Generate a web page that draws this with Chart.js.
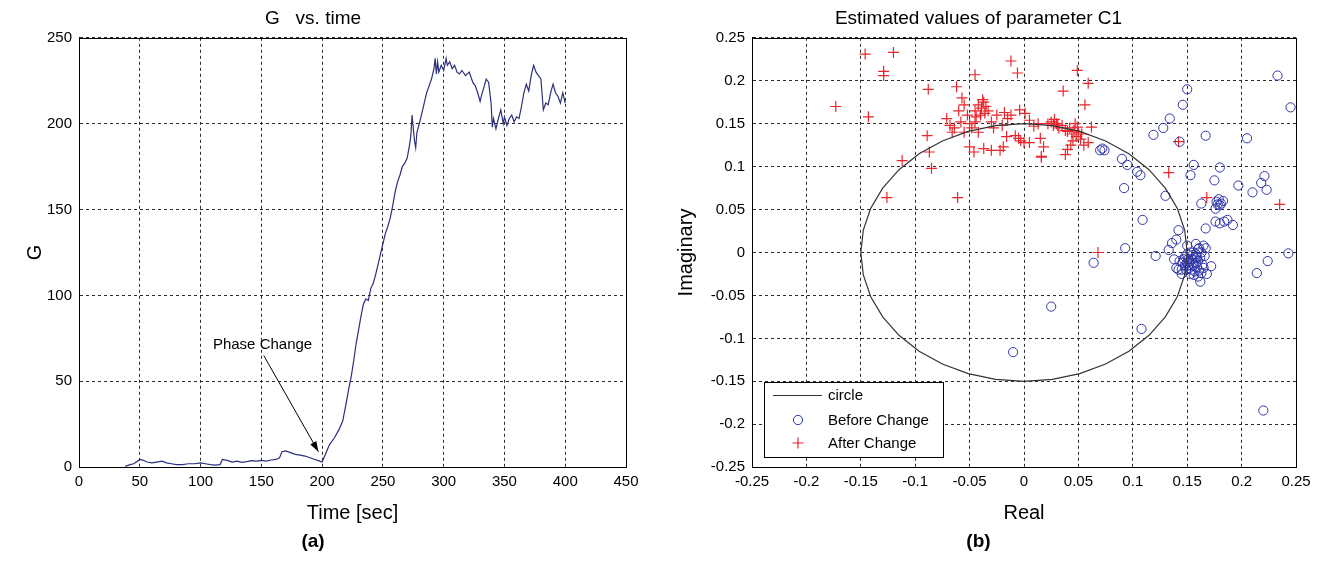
<!DOCTYPE html>
<html>
<head>
<meta charset="utf-8">
<script src="https://cdn.jsdelivr.net/npm/chart.js@4.4.0/dist/chart.umd.min.js"></script>
<style>
    html, body { margin: 0; padding: 0; background: #fff; }
    .panel { position: absolute; top: 0; width: 661px; height: 567px; }
    #left { left: 0; }
    #right { left: 661px; }
</style>
</head>
<body>
<div class="panel" id="left"><canvas id="gChart"></canvas></div>
<div class="panel" id="right"><canvas id="c1Chart"></canvas></div>
<script>
// ---- (a) G vs. time ----
const timeSec = [38, 42, 45, 48, 50, 53, 56, 60, 64, 68, 72, 76, 80, 85, 90, 95, 100, 104, 108, 112,
    116, 118, 122, 126, 130, 134, 138, 142, 146, 150, 154, 158, 162, 165, 167, 170, 174, 178, 182, 186,
    190, 194, 198, 200, 203, 206, 210, 214, 217, 220, 222, 224, 226, 228, 230, 232, 234, 236, 238, 240,
    242, 244, 246, 248, 250, 252, 254, 256, 258, 260, 262, 264, 266, 268, 270, 272, 273, 274, 276, 277,
    278, 280, 282, 284, 286, 288, 290, 292, 293, 294, 295, 296, 298, 300, 302, 303, 305, 307, 309, 311,
    313, 315, 318, 321, 324, 326, 328, 330, 331, 333, 335, 337, 339, 340, 341, 343, 345, 347, 349, 350,
    352, 354, 356, 358, 360, 362, 364, 366, 368, 370, 372, 374, 376, 378, 380, 382, 384, 386, 388, 390,
    392, 394, 396, 398, 400];
const gValues = [0.5, 1.5, 2, 3.5, 4.5, 4, 3, 2.5, 3, 3.5, 2.5, 2, 1.5, 1.5, 2, 2, 2.5, 2, 1.5, 1.2,
    1.5, 4.5, 4, 3, 3.5, 2.8, 3.2, 3.8, 3.5, 4, 3.6, 4.2, 4.5, 5.5, 9, 9.5, 8.5, 7.5, 7, 6.5,
    5.5, 4.5, 3.5, 3, 8, 13, 17, 22, 27, 38, 46, 53, 62, 72, 80, 88, 95, 98, 97, 104,
    107, 112, 118, 124, 130, 136, 140, 145, 152, 160, 166, 170, 175, 177, 180, 188, 193, 205, 190, 186,
    195, 200, 206, 212, 218, 222, 226, 232, 238, 229, 236, 230, 234, 231, 238, 234, 236, 232, 234, 230,
    229, 231, 228, 230, 224, 222, 218, 213, 216, 221, 226, 224, 212, 198, 203, 197, 203, 208, 200, 204,
    199, 203, 205, 201, 204, 203, 210, 218, 223, 219, 228, 234, 230, 228, 226, 208, 212, 211, 218, 223,
    218, 216, 212, 218, 212];
const timeTicks = [0, 50, 100, 150, 200, 250, 300, 350, 400, 450];
const gTicks = [0, 50, 100, 150, 200, 250];
const phaseLabel = 'Phase Change';
const phaseTextAt = [151, 71];
const phaseArrowFrom = [152, 65];
const phaseArrowTo = [197, 9];

// ---- (b) Estimated values of parameter C1 ----
const beforeRe = [0.233, 0.245, 0.150, 0.146, 0.134, 0.128, 0.119, 0.143, 0.167, 0.205, 0.156, 0.153, 0.180, 0.175,
    0.197, 0.210, 0.218, 0.221, 0.223, 0.130, 0.109, 0.092, 0.090, 0.095, 0.104, 0.107, 0.070, 0.074, 0.072,
    0.163, 0.167, 0.176, 0.180, 0.184, 0.187, 0.192, 0.176, 0.177, 0.181, 0.179, 0.183, 0.180, 0.178,
    0.142, 0.140, 0.136, 0.133, 0.093, 0.121, 0.064, 0.172, 0.161, 0.163, 0.162, 0.243, 0.224, 0.214,
    0.025, 0.108, -0.010, 0.220,
    0.148, 0.150, 0.152, 0.154, 0.156, 0.158, 0.160, 0.153, 0.157, 0.149, 0.162, 0.155, 0.151, 0.159,
    0.146, 0.164, 0.157, 0.153, 0.161, 0.148, 0.155, 0.150, 0.158, 0.163, 0.145, 0.165, 0.152, 0.156,
    0.147, 0.160, 0.142, 0.143, 0.165, 0.168, 0.145, 0.160, 0.154, 0.151, 0.159, 0.155, 0.138, 0.140,
    0.166, 0.167, 0.158, 0.150];
const beforeIm = [0.206, 0.169, 0.190, 0.172, 0.156, 0.145, 0.137, 0.129, 0.136, 0.133, 0.102, 0.090, 0.099, 0.084,
    0.078, 0.070, 0.081, 0.089, 0.073, 0.066, 0.038, 0.075, 0.109, 0.102, 0.094, 0.090, 0.119, 0.119, 0.121,
    0.057, 0.028, 0.036, 0.034, 0.036, 0.038, 0.032, 0.051, 0.059, 0.057, 0.062, 0.060, 0.055, 0.056,
    0.026, 0.015, 0.011, 0.003, 0.005, -0.004, -0.012, -0.016, 0.005, -0.024, -0.034, -0.001, -0.010, -0.024,
    -0.063, -0.089, -0.116, -0.184,
    -0.005, -0.012, -0.018, -0.008, -0.015, -0.002, -0.010, 0.000, -0.022, -0.020, -0.006, -0.012, -0.008, -0.017,
    -0.012, -0.014, -0.006, -0.025, -0.021, -0.015, -0.003, -0.002, -0.012, 0.000, -0.020, -0.018, -0.010, -0.026,
    -0.008, 0.004, -0.020, -0.010, 0.008, -0.025, -0.025, -0.028, -0.020, -0.015, -0.005, -0.008, -0.008, -0.018,
    -0.004, 0.005, 0.010, 0.008];
const afterRe = [-0.146, -0.120, -0.129, -0.129, -0.173, -0.143, -0.088, -0.112, -0.126, -0.089, -0.087, -0.085,
    -0.061, -0.045, -0.062, -0.057, -0.012, -0.006, 0.036, 0.049, 0.059, 0.056, 0.062, 0.059, 0.142, 0.133,
    0.168, 0.235, 0.068, 0.016,
    -0.045, -0.042, -0.038, -0.035, -0.040, -0.033, -0.037, -0.044, -0.039, -0.036,
    -0.071, -0.068, -0.064, -0.058, -0.055, -0.052, -0.050, -0.048, -0.045, -0.042, -0.030, -0.028, -0.025,
    -0.020, -0.018, -0.015, -0.012, -0.060, -0.055, -0.066,
    -0.050, -0.046, -0.037, -0.030, -0.022, -0.019, -0.016, -0.008, -0.005, -0.003, 0.000, 0.005, -0.004,
    0.001, 0.005, 0.009, 0.013, 0.015, 0.018, 0.016,
    0.022, 0.025, 0.027, 0.028, 0.030, 0.032, 0.035, 0.038, 0.031,
    0.040, 0.042, 0.044, 0.046, 0.048, 0.050, 0.045, 0.052, 0.040, 0.038, 0.043, 0.055, 0.047, 0.049, 0.053];
const afterIm = [0.231, 0.233, 0.211, 0.206, 0.170, 0.158, 0.190, 0.107, 0.064, 0.136, 0.117, 0.098,
    0.064, 0.207, 0.193, 0.180, 0.223, 0.209, 0.188, 0.212, 0.197, 0.172, 0.146, 0.128, 0.129, 0.093,
    0.064, 0.056, 0.000, 0.111,
    0.165, 0.172, 0.178, 0.170, 0.160, 0.165, 0.175, 0.158, 0.168, 0.162,
    0.156, 0.148, 0.145, 0.152, 0.140, 0.160, 0.150, 0.145, 0.152, 0.140, 0.152, 0.145, 0.160,
    0.148, 0.163, 0.156, 0.160, 0.165, 0.172, 0.140,
    0.123, 0.117, 0.121, 0.119, 0.119, 0.123, 0.135, 0.136, 0.133, 0.130, 0.128, 0.128, 0.166,
    0.162, 0.154, 0.147, 0.150, 0.133, 0.123, 0.112,
    0.150, 0.152, 0.148, 0.155, 0.150, 0.145, 0.148, 0.142, 0.148,
    0.141, 0.145, 0.138, 0.142, 0.135, 0.140, 0.130, 0.132, 0.120, 0.114, 0.125, 0.125, 0.150, 0.146, 0.138];
// circle of radius 0.15, every 10 degrees
const circleRe = [0.15, 0.1477, 0.1410, 0.1299, 0.1149, 0.0964, 0.0750, 0.0513, 0.0260, 0,
    -0.0260, -0.0513, -0.0750, -0.0964, -0.1149, -0.1299, -0.1410, -0.1477, -0.15,
    -0.1477, -0.1410, -0.1299, -0.1149, -0.0964, -0.0750, -0.0513, -0.0260, 0,
    0.0260, 0.0513, 0.0750, 0.0964, 0.1149, 0.1299, 0.1410, 0.1477, 0.15];
const circleIm = [0, 0.0260, 0.0513, 0.0750, 0.0964, 0.1149, 0.1299, 0.1410, 0.1477, 0.15,
    0.1477, 0.1410, 0.1299, 0.1149, 0.0964, 0.0750, 0.0513, 0.0260, 0,
    -0.0260, -0.0513, -0.0750, -0.0964, -0.1149, -0.1299, -0.1410, -0.1477, -0.15,
    -0.1477, -0.1410, -0.1299, -0.1149, -0.0964, -0.0750, -0.0513, -0.0260, 0];
const c1Ticks = [-0.25, -0.2, -0.15, -0.1, -0.05, 0, 0.05, 0.1, 0.15, 0.2, 0.25];

const FONT = '"Liberation Sans", Arial, Helvetica, sans-serif';
Chart.defaults.font.family = FONT;
Chart.defaults.color = '#000';

function pairs(xs, ys) {
    return xs.map((x, i) => ({ x: x, y: ys[i] }));
}

// force axis box sizes so the plot areas land where the reference has them
function fixSize(size) {
    return function (scale) {
        if (scale.isHorizontal()) scale.height = size;
        else scale.width = size;
    };
}

function useTicks(list) {
    return function (scale) {
        scale.ticks = list.map(v => ({ value: v }));
    };
}

function tickText(v) {
    return String(Math.round(v * 100) / 100);
}

function axis(opts) {
    return {
        type: 'linear',
        min: opts.min,
        max: opts.max,
        afterBuildTicks: useTicks(opts.ticks),
        afterFit: fixSize(opts.size),
        grid: { color: '#2a2a2a', lineWidth: 1, drawTicks: false },
        border: { color: '#000', dash: [3, 3] },
        ticks: { font: { size: 15 }, padding: opts.tickPad, callback: tickText, maxRotation: 0, autoSkip: false },
        title: { display: true, text: opts.title, font: { size: 20 }, padding: opts.titlePad }
    };
}

// MATLAB style box round the axes
const frame = {
    id: 'frame',
    afterDatasetsDraw(chart) {
        const { ctx, chartArea: a } = chart;
        ctx.save();
        ctx.strokeStyle = '#000';
        ctx.lineWidth = 1;
        ctx.strokeRect(Math.round(a.left) + 0.5, Math.round(a.top) + 0.5,
            Math.round(a.right - a.left), Math.round(a.bottom - a.top));
        ctx.restore();
    }
};

const phaseNote = {
    id: 'phaseNote',
    afterDatasetsDraw(chart) {
        const { ctx, scales: { x, y } } = chart;
        const fx = x.getPixelForValue(phaseArrowFrom[0]), fy = y.getPixelForValue(phaseArrowFrom[1]);
        const tx = x.getPixelForValue(phaseArrowTo[0]), ty = y.getPixelForValue(phaseArrowTo[1]);
        const cx = x.getPixelForValue(phaseTextAt[0]), cy = y.getPixelForValue(phaseTextAt[1]);
        ctx.save();
        ctx.font = '15px ' + FONT;
        ctx.fillStyle = '#000';
        ctx.textAlign = 'center';
        ctx.textBaseline = 'middle';
        ctx.fillText(phaseLabel, cx, cy);
        // arrow
        ctx.strokeStyle = '#000';
        ctx.lineWidth = 1;
        ctx.beginPath();
        ctx.moveTo(fx, fy);
        ctx.lineTo(tx, ty);
        ctx.stroke();
        const ang = Math.atan2(ty - fy, tx - fx);
        const len = 11, half = 0.32;
        ctx.beginPath();
        ctx.moveTo(tx, ty);
        ctx.lineTo(tx - len * Math.cos(ang - half), ty - len * Math.sin(ang - half));
        ctx.lineTo(tx - len * Math.cos(ang + half), ty - len * Math.sin(ang + half));
        ctx.closePath();
        ctx.fill();
        ctx.restore();
    }
};

const legendBox = {
    id: 'legendBox',
    afterDraw(chart) {
        const { ctx, chartArea } = chart;
        const x0 = Math.round(chartArea.left) + 12, y0 = Math.round(chartArea.bottom) - 85;
        const w = 179, h = 75;
        ctx.save();
        ctx.fillStyle = '#fff';
        ctx.fillRect(x0, y0, w, h);
        ctx.strokeStyle = '#000';
        ctx.lineWidth = 1;
        ctx.strokeRect(x0 + 0.5, y0 + 0.5, w, h);
        ctx.font = '15px ' + FONT;
        ctx.textBaseline = 'middle';
        const rows = [13, 38, 61];
        chart.data.datasets.forEach((ds, i) => {
            const cy = y0 + rows[i];
            ctx.strokeStyle = ds.borderColor;
            ctx.lineWidth = ds.borderWidth;
            if (ds.showLine) {
                ctx.beginPath();
                ctx.moveTo(x0 + 9, cy + 0.5);
                ctx.lineTo(x0 + 58, cy + 0.5);
                ctx.stroke();
            } else {
                ctx.fillStyle = 'rgba(0,0,0,0)';
                Chart.helpers.drawPoint(ctx, {
                    pointStyle: ds.pointStyle, radius: ds.pointRadius, borderWidth: ds.borderWidth, rotation: 0
                }, x0 + 34, cy);
            }
            ctx.fillStyle = '#000';
            ctx.fillText(ds.label, x0 + 64, cy + 1);
        });
        ctx.restore();
    }
};

new Chart(document.getElementById('gChart'), {
    type: 'line',
    data: {
        datasets: [{
            label: 'G',
            data: pairs(timeSec, gValues),
            borderColor: '#2b2f7c',
            borderWidth: 1.2,
            pointRadius: 0,
            tension: 0,
            fill: false
        }]
    },
    options: {
        responsive: true,
        maintainAspectRatio: false,
        animation: false,
        layout: { padding: { left: 0, right: 35, top: 0, bottom: 0 } },
        scales: {
            x: axis({ min: 0, max: 450, ticks: timeTicks, size: 61, tickPad: 6, title: 'Time [sec]', titlePad: { top: 0, bottom: 3 } }),
            y: axis({ min: 0, max: 250, ticks: gTicks, size: 79, tickPad: 7, title: 'G', titlePad: { top: 23, bottom: 0 } })
        },
        plugins: {
            legend: { display: false },
            tooltip: { enabled: false },
            title: { display: true, text: 'G   vs. time', font: { size: 19, weight: 'normal' }, color: '#000', padding: { top: 7, bottom: 8 } },
            subtitle: { display: true, position: 'bottom', text: '(a)', font: { size: 19, weight: 'bold' }, color: '#000', padding: { top: 2, bottom: 14 } }
        }
    },
    plugins: [frame, phaseNote]
});

new Chart(document.getElementById('c1Chart'), {
    type: 'scatter',
    data: {
        datasets: [{
            label: 'circle',
            data: pairs(circleRe, circleIm),
            showLine: true,
            borderColor: '#333',
            borderWidth: 1.2,
            pointRadius: 0,
            tension: 0
        }, {
            label: 'Before Change',
            data: pairs(beforeRe, beforeIm),
            pointStyle: 'circle',
            pointRadius: 4.6,
            borderWidth: 1,
            borderColor: '#2f35a8',
            backgroundColor: 'rgba(0,0,0,0)',
            clip: 8
        }, {
            label: 'After Change',
            data: pairs(afterRe, afterIm),
            pointStyle: 'cross',
            pointRadius: 5.5,
            borderWidth: 1.2,
            borderColor: '#e8262c',
            backgroundColor: 'rgba(0,0,0,0)',
            clip: 8
        }]
    },
    options: {
        responsive: true,
        maintainAspectRatio: false,
        animation: false,
        layout: { padding: { left: 0, right: 26, top: 0, bottom: 0 } },
        scales: {
            x: axis({ min: -0.25, max: 0.25, ticks: c1Ticks, size: 61, tickPad: 6, title: 'Real', titlePad: { top: 0, bottom: 3 } }),
            y: axis({ min: -0.25, max: 0.25, ticks: c1Ticks, size: 91, tickPad: 7, title: 'Imaginary', titlePad: { top: 13, bottom: 0 } })
        },
        plugins: {
            legend: { display: false },
            tooltip: { enabled: false },
            title: { display: true, text: 'Estimated values of parameter C1', font: { size: 19, weight: 'normal' }, color: '#000', padding: { top: 7, bottom: 8 } },
            subtitle: { display: true, position: 'bottom', text: '(b)', font: { size: 19, weight: 'bold' }, color: '#000', padding: { top: 2, bottom: 14 } }
        }
    },
    plugins: [frame, legendBox]
});
</script>
</body>
</html>
